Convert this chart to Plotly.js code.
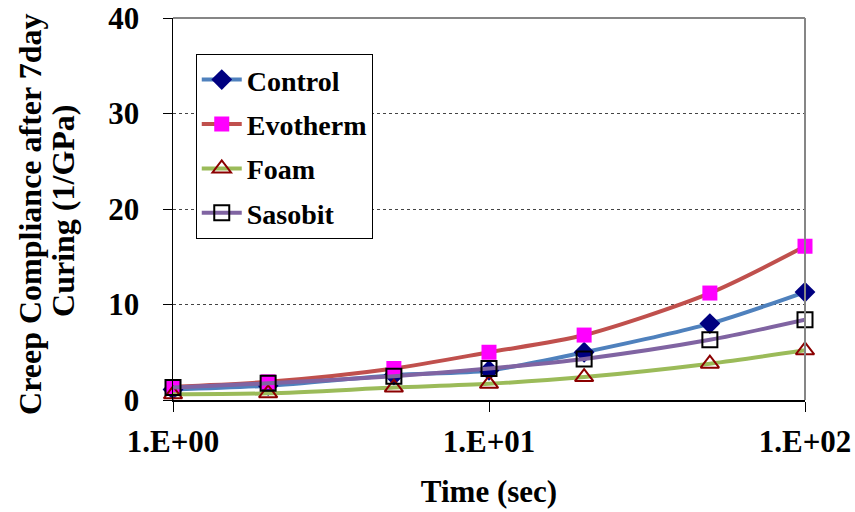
<!DOCTYPE html>
<html>
<head>
<meta charset="utf-8">
<script src="https://cdn.plot.ly/plotly-3.0.1.min.js"></script>
<style>html,body{margin:0;padding:0;background:#fff;}#chart{width:855px;height:512px;}</style>
</head>
<body>
<div id="chart"></div>
<script>
const time = [1, 2, 5, 10, 20, 50, 100];
const control = [1.1, 1.5, 2.6, 3.1, 5.0, 8.0, 11.3];
const evotherm = [1.4, 1.9, 3.3, 5.0, 6.8, 11.2, 16.1];
const foam = [0.6, 0.7, 1.3, 1.7, 2.4, 3.8, 5.2];
const sasobit = [1.3, 1.75, 2.5, 3.3, 4.3, 6.3, 8.4];
const xTickVals = [1, 10, 100];
const xTickText = ["1.E+00", "1.E+01", "1.E+02"];
const yTickVals = [0, 10, 20, 30, 40];
const yTitleLines = ["Creep Compliance after 7day", "Curing (1/GPa)"];
const xTitle = "Time (sec)";

const font = "'Liberation Serif', 'Times New Roman', serif";

function tr(name, y, lineColor, marker, group) {
  return {
    x: time, y: y, name: name, type: 'scatter', mode: 'lines+markers',
    legendgroup: group, cliponaxis: false,
    line: {color: lineColor, width: 4, shape: 'spline', smoothing: 0.8},
    marker: marker
  };
}

const data = [
  tr('Control', control, '#4F81BD', {symbol: 'diamond', size: 16, color: '#000080'}, 'a'),
  tr('Evotherm', evotherm, '#C0504D', {symbol: 'square', size: 15, color: '#FF00FF'}, 'b'),
  tr('Foam', foam, '#9BBB59', {symbol: 'triangle-up-open', size: 16, color: '#8B0000', line: {width: 2, color: '#8B0000'}}, 'c'),
  tr('Sasobit', sasobit, '#8064A2', {symbol: 'square-open', size: 15, color: '#000000', line: {width: 2, color: '#000000'}}, 'd')
];

const layout = {
  width: 855, height: 512,
  margin: {l: 173, r: 50, t: 18, b: 112},
  paper_bgcolor: '#fff', plot_bgcolor: '#fff',
  font: {family: font, color: '#000', size: 22},
  showlegend: true,
  legend: {
    x: 0.036, y: 0.906, xanchor: 'left', yanchor: 'top',
    bordercolor: '#000', borderwidth: 1, bgcolor: '#fff',
    font: {family: font, size: 28, color: '#000', weight: 'bold'},
    tracegroupgap: 5, itemwidth: 40
  },
  xaxis: {
    type: 'log', range: [0, 2],
    tickvals: xTickVals, ticktext: xTickText,
    ticks: 'outside', ticklen: 10, tickcolor: '#000', tickwidth: 1,
    showline: true, linecolor: '#000', linewidth: 1.5,
    showgrid: false, zeroline: false,
    tickfont: {family: font, size: 31, weight: 'bold'},
    ticklabelstandoff: 3,
    title: {text: '<b>' + xTitle + '</b>', font: {family: font, size: 31}, standoff: 22}
  },
  yaxis: {
    range: [0, 40], tickvals: yTickVals,
    ticks: 'outside', ticklen: 9, tickcolor: '#000', tickwidth: 1,
    showline: true, linecolor: '#000', linewidth: 1.5,
    showgrid: true, gridcolor: '#444', griddash: 'dot', gridwidth: 1,
    zeroline: false,
    tickfont: {family: font, size: 31, weight: 'bold'},
    ticklabelstandoff: 17
  },
  annotations: [
    {text: '<b>' + yTitleLines[0] + '</b>', xref: 'paper', yref: 'paper', x: -0.2263, y: 0.487,
     xanchor: 'center', yanchor: 'middle', textangle: -90, showarrow: false,
     font: {family: font, size: 32, color: '#000'}},
    {text: '<b>' + yTitleLines[1] + '</b>', xref: 'paper', yref: 'paper', x: -0.174, y: 0.495,
     xanchor: 'center', yanchor: 'middle', textangle: -90, showarrow: false,
     font: {family: font, size: 32, color: '#000'}}
  ],
  shapes: [
    {type: 'line', xref: 'paper', yref: 'paper', x0: 0, x1: 1, y0: 1, y1: 1, line: {color: '#868686', width: 2}},
    {type: 'line', xref: 'paper', yref: 'paper', x0: 1, x1: 1, y0: 0, y1: 1, line: {color: '#868686', width: 2}}
  ]
};

Plotly.newPlot('chart', data, layout, {displayModeBar: false, staticPlot: true});
</script>
</body>
</html>
